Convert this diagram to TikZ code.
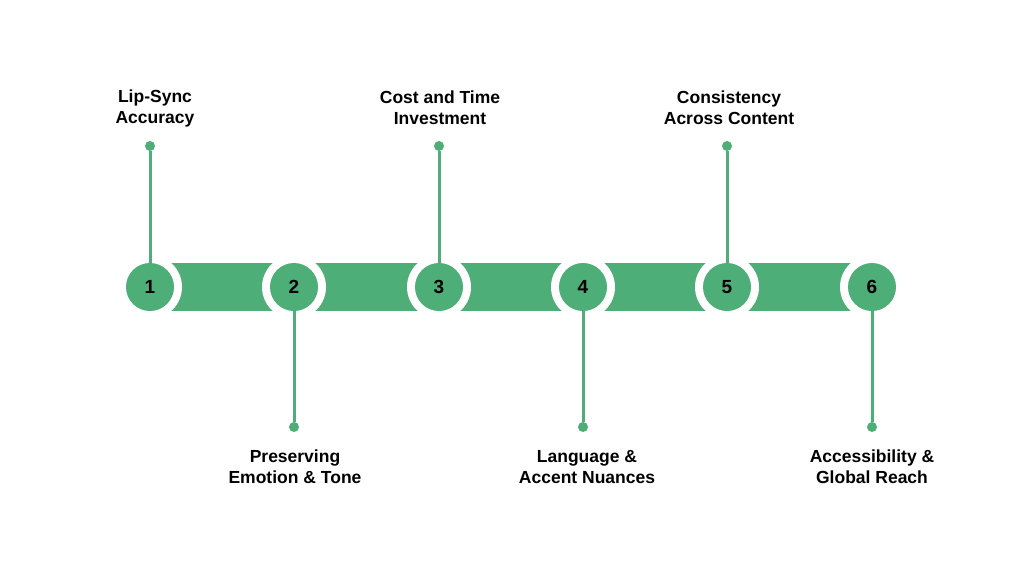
\documentclass[tikz,border=0pt]{standalone}
\usepackage{fontspec}
\setmainfont{Liberation Sans}
\begin{document}
\begin{tikzpicture}[x=1pt,y=-1pt,
  grn/.style={fill={rgb,255:red,78;green,174;blue,120}},
  num/.style={circle,grn,minimum size=48pt,inner sep=0pt,font=\fontsize{19}{20}\selectfont\bfseries},
  gap/.style={circle,fill=white,minimum size=64pt,inner sep=0pt},
  dot/.style={circle,grn,minimum size=10pt,inner sep=0pt},
  stem/.style={draw={rgb,255:red,78;green,174;blue,120},line width=3pt},
  lbl/.style={align=center,font=\fontsize{17.5}{21}\selectfont\bfseries}]
\useasboundingbox (0,0) rectangle (1024,576);
\fill[grn] (150,263) rectangle (872,311);
\foreach \i/\x in {1/150,2/294,3/439,4/583,5/727,6/872}{
  \node[gap] at (\x,287) {};
}
\foreach \i/\x in {1/150,2/294,3/439,4/583,5/727,6/872}{
  \node[num] (c\i) at (\x,287) {\i};
}
\node[dot] (d1) at (150,146) {};
\node[dot] (d3) at (439,146) {};
\node[dot] (d5) at (727,146) {};
\node[dot] (d2) at (294,427) {};
\node[dot] (d4) at (583,427) {};
\node[dot] (d6) at (872,427) {};
\foreach \i in {1,...,6}{\draw[stem] (d\i) -- (c\i);}
\node[lbl] (t1) at (155,108) {Lip-Sync\\Accuracy};
\node[lbl] (t3) at (440,108) {Cost and Time\\Investment};
\node[lbl] (t5) at (729,108) {Consistency\\Across Content};
\node[lbl] (t2) at (295,467) {Preserving\\Emotion \& Tone};
\node[lbl] (t4) at (587,467) {Language \&\\Accent Nuances};
\node[lbl] (t6) at (872,467) {Accessibility \&\\Global Reach};
\end{tikzpicture}
\end{document}
